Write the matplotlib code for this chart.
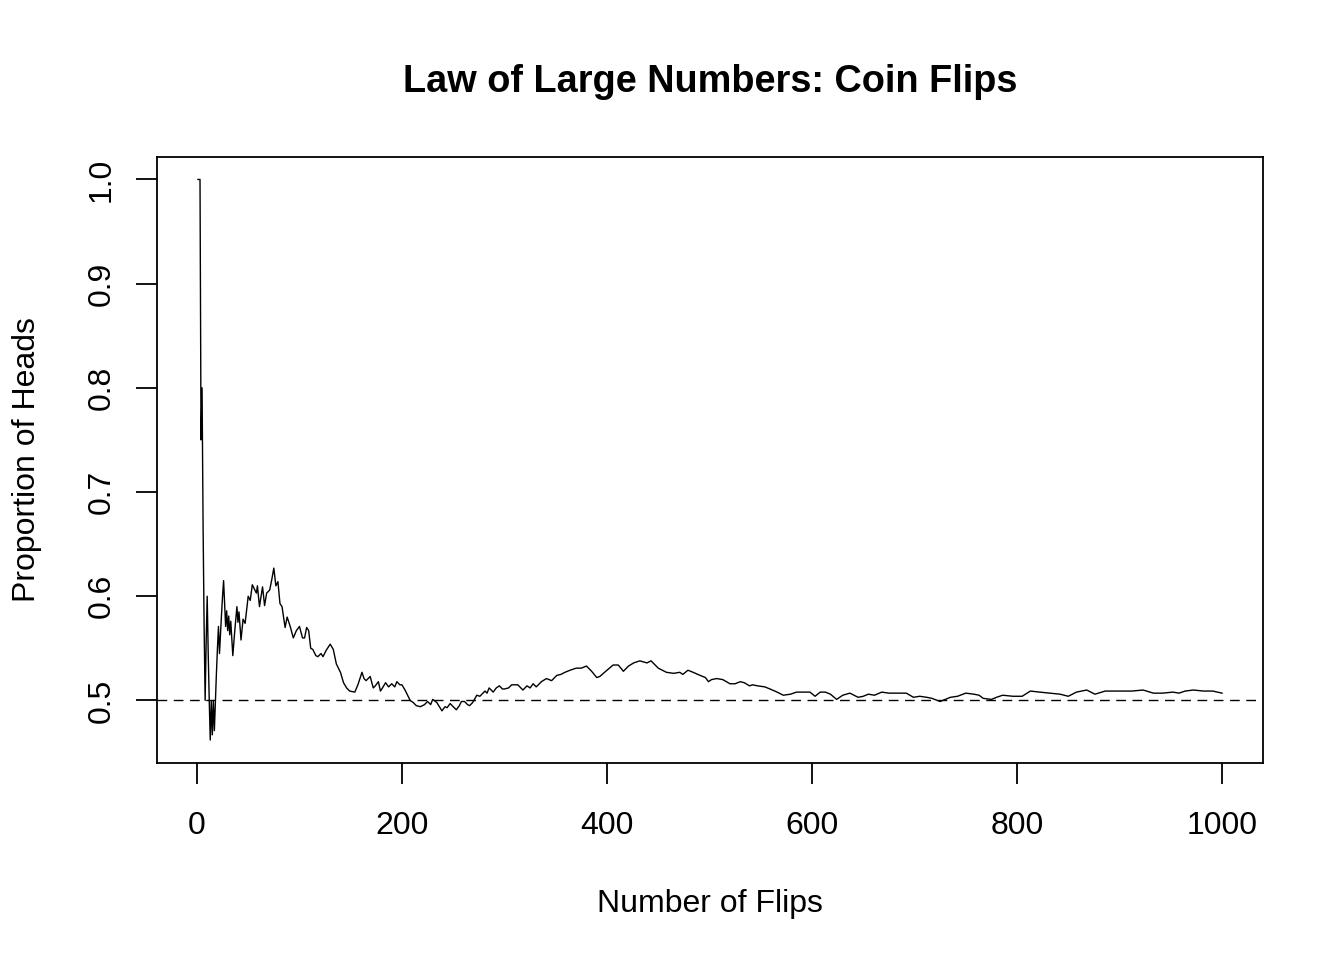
import matplotlib
matplotlib.use('Agg')
import matplotlib.pyplot as plt

plt.rcParams['font.family'] = ['Liberation Sans', 'DejaVu Sans']

# proportion of heads, at selected flip counts
flips = [1, 2, 3, 4, 5, 6, 7, 8, 9, 10, 11, 12, 13, 14, 15, 16, 17, 18, 19, 20,
         21, 22, 23, 24, 25, 26, 27, 28, 29, 30, 31, 32, 33, 34, 35, 36, 37, 38, 39, 40,
         41, 42, 43, 44, 45, 47, 50, 52, 54, 56, 58, 59, 61, 64, 66, 68, 71, 73, 75, 77,
         79, 81, 83, 86, 88, 91, 94, 97, 100, 103, 105, 107, 109, 111, 113, 116, 118, 121, 123, 126,
         130, 133, 136, 140, 143, 146, 149, 154, 157, 161, 163, 165, 169, 172, 174, 177, 179, 181, 184, 187,
         190, 193, 195, 198, 200, 203, 206, 208, 211, 214, 218, 222, 225, 228, 230, 234, 239, 242, 244, 247,
         250, 253, 256, 258, 261, 264, 266, 269, 273, 276, 278, 281, 283, 285, 289, 292, 295, 298, 300, 304,
         307, 310, 313, 318, 322, 325, 328, 331, 336, 341, 346, 351, 355, 359, 364, 370, 375, 380, 385, 390,
         393, 400, 406, 411, 416, 421, 426, 432, 439, 443, 450, 458, 465, 471, 474, 479, 484, 491, 496, 499,
         502, 507, 513, 520, 525, 530, 534, 539, 542, 547, 554, 559, 566, 572, 579, 585, 591, 598, 603, 608,
         613, 618, 624, 630, 637, 645, 650, 655, 661, 668, 675, 683, 692, 699, 705, 712, 717, 725, 735, 742,
         750, 758, 763, 767, 775, 780, 786, 796, 805, 813, 822, 832, 842, 850, 858, 868, 876, 886, 894, 903,
         912, 923, 933, 942, 952, 958, 964, 972, 982, 991, 1000]
prop_heads = [1.0, 1.0, 1.0, 0.75, 0.8, 0.667, 0.571, 0.5, 0.556, 0.6, 0.545, 0.5, 0.462, 0.5, 0.467, 0.5, 0.471, 0.5, 0.526, 0.55,
              0.571, 0.545, 0.565, 0.583, 0.6, 0.615, 0.593, 0.571, 0.586, 0.567, 0.581, 0.563, 0.576, 0.559, 0.543, 0.556, 0.568, 0.579, 0.590, 0.575,
              0.585, 0.571, 0.558, 0.568, 0.578, 0.574, 0.6, 0.596, 0.611, 0.607, 0.603, 0.610, 0.59, 0.609, 0.591, 0.603, 0.606, 0.616, 0.627, 0.610,
              0.614, 0.593, 0.590, 0.570, 0.580, 0.571, 0.56, 0.567, 0.571, 0.56, 0.56, 0.570, 0.567, 0.550, 0.549, 0.543, 0.542, 0.545, 0.542, 0.548,
              0.554, 0.549, 0.535, 0.527, 0.517, 0.512, 0.509, 0.508, 0.515, 0.527, 0.521, 0.519, 0.523, 0.512, 0.514, 0.518, 0.509, 0.512, 0.517, 0.513,
              0.516, 0.513, 0.518, 0.515, 0.515, 0.510, 0.504, 0.500, 0.498, 0.495, 0.494, 0.496, 0.499, 0.496, 0.501, 0.498, 0.490, 0.494, 0.493, 0.497,
              0.494, 0.491, 0.495, 0.499, 0.499, 0.496, 0.495, 0.498, 0.505, 0.504, 0.506, 0.509, 0.507, 0.512, 0.508, 0.512, 0.514, 0.511, 0.511, 0.512,
              0.515, 0.515, 0.515, 0.510, 0.514, 0.512, 0.516, 0.513, 0.518, 0.521, 0.519, 0.524, 0.525, 0.527, 0.529, 0.531, 0.531, 0.533, 0.528, 0.522,
              0.523, 0.529, 0.534, 0.534, 0.528, 0.533, 0.536, 0.538, 0.536, 0.538, 0.531, 0.527, 0.526, 0.527, 0.525, 0.529, 0.527, 0.524, 0.522, 0.518,
              0.520, 0.521, 0.520, 0.516, 0.516, 0.518, 0.517, 0.514, 0.515, 0.514, 0.513, 0.511, 0.508, 0.505, 0.506, 0.508, 0.508, 0.508, 0.504, 0.508,
              0.508, 0.506, 0.501, 0.505, 0.507, 0.503, 0.504, 0.506, 0.505, 0.508, 0.507, 0.507, 0.507, 0.503, 0.504, 0.503, 0.502, 0.499, 0.503, 0.504,
              0.507, 0.506, 0.505, 0.502, 0.501, 0.503, 0.505, 0.504, 0.504, 0.509, 0.508, 0.507, 0.506, 0.504, 0.508, 0.510, 0.506, 0.509, 0.509, 0.509,
              0.509, 0.510, 0.507, 0.507, 0.508, 0.507, 0.509, 0.510, 0.509, 0.509, 0.507]

x_ticks = [0, 200, 400, 600, 800, 1000]
y_ticks = [0.5, 0.6, 0.7, 0.8, 0.9, 1.0]

fig = plt.figure(figsize=(13.44, 9.6), dpi=100)
ax = fig.add_axes([157/1344, 1 - 763/960, (1263 - 157)/1344, (763 - 157)/960])

ax.plot(flips, prop_heads, color='black', lw=1.0)
ax.axhline(0.5, color='black', lw=1, ls=(0, (7, 4.7)))

ax.set_xlim(1 - 999*0.04, 1000 + 999*0.04)
ax.set_ylim(0.4615 - 0.5385*0.04, 1.0 + 0.5385*0.04)

ax.set_xticks(x_ticks)
ax.set_xticklabels([str(t) for t in x_ticks])
ax.set_yticks(y_ticks)
ax.set_yticklabels(['%.1f' % t for t in y_ticks], rotation=90, va='center')

for s in ax.spines.values():
    s.set_linewidth(1.3)

ax.tick_params(axis='both', direction='out', length=15, width=1.3, labelsize=23)
ax.tick_params(axis='x', pad=19.5)
ax.tick_params(axis='y', pad=14)

ax.set_xlabel('Number of Flips', fontsize=23, labelpad=34.5)
ax.set_ylabel('Proportion of Heads', fontsize=23, labelpad=32)
ax.set_title('Law of Large Numbers: Coin Flips', fontsize=27.3, fontweight='bold', pad=47)

fig.savefig('out.png', dpi=100)
